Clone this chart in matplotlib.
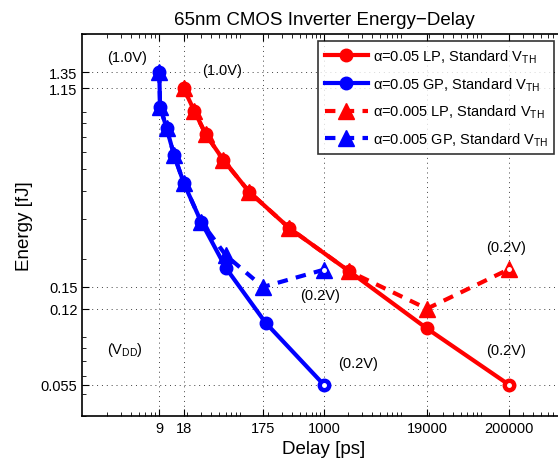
import numpy as np
import matplotlib
matplotlib.use('Agg')
import matplotlib.pyplot as plt
from matplotlib.ticker import FixedLocator, FixedFormatter, LogLocator, NullFormatter

plt.rcParams['font.family'] = ['Liberation Sans', 'DejaVu Sans']
plt.rcParams['mathtext.fontset'] = 'custom'
plt.rcParams['mathtext.rm'] = 'Liberation Sans'
plt.rcParams['mathtext.it'] = 'Liberation Sans:italic'

# alpha=0.05 LP (1.0V -> 0.2V)
lp05_delay = [18, 24.5, 33.9, 56.1, 117, 371, 2063, 19000, 200000]
lp05_energy = [1.15, 0.910, 0.717, 0.551, 0.398, 0.274, 0.176, 0.098, 0.055]
# alpha=0.05 GP
gp05_delay = [9, 9.2, 11.1, 13.7, 18.2, 29.7, 60.6, 188, 1000]
gp05_energy = [1.35, 0.951, 0.762, 0.580, 0.433, 0.293, 0.182, 0.104, 0.055]
# alpha=0.005 LP
lp005_delay = [18, 24.5, 33.9, 56.1, 117, 371, 2063, 19000, 200000]
lp005_energy = [1.15, 0.910, 0.717, 0.551, 0.398, 0.274, 0.176, 0.12, 0.180]
# alpha=0.005 GP
gp005_delay = [9, 9.2, 11.1, 13.7, 18.2, 29.7, 60.6, 175, 1000]
gp005_energy = [1.35, 0.951, 0.762, 0.580, 0.433, 0.293, 0.207, 0.15, 0.179]

xticks = [9, 18, 175, 1000, 19000, 200000]
yticks = [0.055, 0.12, 0.15, 1.15, 1.35]

fig = plt.figure(figsize=(5.58, 4.64), dpi=100)
ax = fig.add_axes([0.1478, 0.1013, 0.8656, 0.8233])

ax.plot(lp05_delay, lp05_energy, '-', color='red', lw=3, marker='o', ms=9,
        label=r'α=0.05 LP, Standard V$_{\rm TH}$')
ax.plot(gp05_delay, gp05_energy, '-', color='blue', lw=3, marker='o', ms=9,
        label=r'α=0.05 GP, Standard V$_{\rm TH}$')
ax.plot(lp005_delay, lp005_energy, '--', color='red', lw=3, marker='^', ms=11,
        dashes=(2.5, 2), label=r'α=0.005 LP, Standard V$_{\rm TH}$')
ax.plot(gp005_delay, gp005_energy, '--', color='blue', lw=3, marker='^', ms=11,
        dashes=(2.5, 2), label=r'α=0.005 GP, Standard V$_{\rm TH}$')

# white centre on the 0.2V end points
for xs, ys in [(lp05_delay, lp05_energy), (gp05_delay, gp05_energy),
               (lp005_delay, lp005_energy), (gp005_delay, gp005_energy)]:
    ax.plot(xs[-1], ys[-1], 'o', color='white', ms=2.5, zorder=5)

ax.set_xscale('log')
ax.set_yscale('log')
ax.set_xlim(1, 1e6)
ax.set_ylim(0.04, 2)

ax.xaxis.set_major_locator(FixedLocator(xticks))
ax.xaxis.set_major_formatter(FixedFormatter([str(v) for v in xticks]))
ax.xaxis.set_minor_locator(LogLocator(base=10, subs=np.arange(2, 10), numticks=20))
ax.xaxis.set_minor_formatter(NullFormatter())
ax.yaxis.set_major_locator(FixedLocator(yticks))
ax.yaxis.set_major_formatter(FixedFormatter([str(v) for v in yticks]))
ax.yaxis.set_minor_locator(LogLocator(base=10, subs=np.arange(2, 10), numticks=20))
ax.yaxis.set_minor_formatter(NullFormatter())

ax.tick_params(which='both', direction='in', top=True, right=True, labelsize=10.5)
ax.tick_params(which='major', length=5, width=0.8)
ax.tick_params(which='minor', length=3, width=0.6)
for s in ax.spines.values():
    s.set_linewidth(1.2)

ax.grid(True, which='major', color='0.25', lw=0.7, linestyle=(0, (1, 4)))

ax.text(3.54, 1.574, '(1.0V)', fontsize=10.5, ha='center', va='center')
ax.text(53.6, 1.39, '(1.0V)', fontsize=10.5, ha='center', va='center')
ax.text(892, 0.138, '(0.2V)', fontsize=10.5, ha='center', va='center')
ax.text(2670, 0.0689, '(0.2V)', fontsize=10.5, ha='center', va='center')
ax.text(182400, 0.225, '(0.2V)', fontsize=10.5, ha='center', va='center')
ax.text(182400, 0.0789, '(0.2V)', fontsize=10.5, ha='center', va='center')
ax.text(3.37, 0.0795, r'(V$_{\rm DD}$)', fontsize=10.5, ha='center', va='center')

ax.set_title('65nm CMOS Inverter Energy\u2212Delay', fontsize=13.5, pad=7)
ax.set_xlabel('Delay [ps]', fontsize=13.5, labelpad=4)
ax.set_ylabel('Energy [fJ]', fontsize=13.5, labelpad=6)

leg = ax.legend(loc='upper left', bbox_to_anchor=(0.4876, 0.9817), borderaxespad=0,
                fontsize=10.5, handlelength=3.0, frameon=True, fancybox=False,
                edgecolor='black', borderpad=0.45, labelspacing=0.7, handletextpad=0.3)
leg.get_frame().set_linewidth(1.2)

fig.savefig('out.png', dpi=100)
